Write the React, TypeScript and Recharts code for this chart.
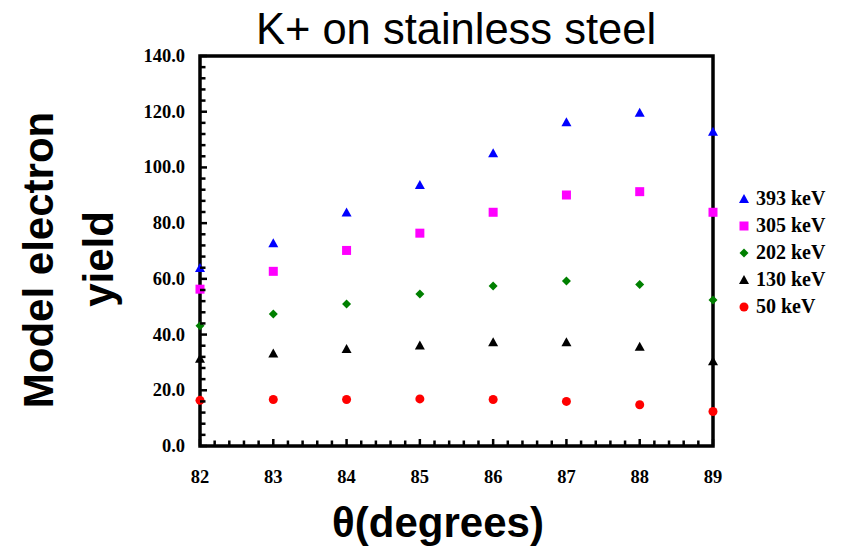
import React from 'react';
import { ScatterChart, Scatter, XAxis, YAxis, Legend } from 'recharts';

const angles = [82, 83, 84, 85, 86, 87, 88, 89];
const yield393 = [63.9, 72.8, 83.8, 93.7, 105.1, 116.2, 119.6, 112.8];
const yield305 = [56.3, 62.7, 70.2, 76.4, 83.9, 90.1, 91.3, 83.9];
const yield202 = [43.2, 47.4, 51.0, 54.6, 57.4, 59.2, 58.0, 52.4];
const yield130 = [31.3, 33.2, 34.8, 36.1, 37.2, 37.2, 35.6, 30.4];
const yield50 = [16.4, 16.7, 16.7, 16.9, 16.7, 16.0, 14.8, 12.4];

const xMajorTicks = [82, 83, 84, 85, 86, 87, 88, 89];
const yMajorTicks = [0, 20, 40, 60, 80, 100, 120, 140];

// minor ticks: 5 per major interval
const xTicks: number[] = [];
xMajorTicks.forEach((t, i) => {
  xTicks.push(t);
  if (i < xMajorTicks.length - 1) for (let k = 1; k < 5; k++) xTicks.push(Math.round((t + k * 0.2) * 10) / 10);
});
const yTicks: number[] = [];
yMajorTicks.forEach((t, i) => {
  yTicks.push(t);
  if (i < yMajorTicks.length - 1) for (let k = 1; k < 5; k++) yTicks.push(t + k * 4);
});

type Shape = 'triangle' | 'square' | 'diamond' | 'circle';

const series: { name: string; color: string; shape: Shape; values: number[] }[] = [
  { name: '393 keV', color: '#0000FF', shape: 'triangle', values: yield393 },
  { name: '305 keV', color: '#FF00FF', shape: 'square', values: yield305 },
  { name: '202 keV', color: '#008000', shape: 'diamond', values: yield202 },
  { name: '130 keV', color: '#000000', shape: 'triangle', values: yield130 },
  { name: '50 keV', color: '#FF0000', shape: 'circle', values: yield50 },
];

const SERIF = '"Liberation Serif", "Times New Roman", serif';
const SANS = '"Liberation Sans", Arial, sans-serif';

// plot frame (matches chart margins below)
const PLOT = { left: 200, top: 56, right: 713, bottom: 446 };

function Marker({ cx, cy, shape, color }: { cx: number; cy: number; shape: Shape; color: string }) {
  if (shape === 'triangle') {
    return <polygon points={`${cx},${cy - 5} ${cx - 5},${cy + 4} ${cx + 5},${cy + 4}`} fill={color} />;
  }
  if (shape === 'square') {
    return <rect x={cx - 4.5} y={cy - 4.5} width={9} height={9} fill={color} />;
  }
  if (shape === 'diamond') {
    return <polygon points={`${cx},${cy - 4.5} ${cx + 4.5},${cy} ${cx},${cy + 4.5} ${cx - 4.5},${cy}`} fill={color} />;
  }
  return <circle cx={cx} cy={cy} r={4.5} fill={color} />;
}

const YTick = (props: any) => {
  const { x, y, payload } = props;
  const major = payload.value % 20 === 0;
  return (
    <g>
      <line x1={x} x2={x + (major ? 7 : 5.5)} y1={y} y2={y} stroke="#000" strokeWidth={2.5} />
      {major && (
        <text x={x - 15} y={y} textAnchor="end" dominantBaseline="central" fontFamily={SERIF} fontWeight="bold" fontSize={18.5} fill="#000">
          {payload.value.toFixed(1)}
        </text>
      )}
    </g>
  );
};

const XTick = (props: any) => {
  const { x, y, payload } = props;
  const major = Number.isInteger(payload.value);
  return (
    <g>
      <line x1={x} x2={x} y1={y} y2={y - (major ? 7 : 5.5)} stroke="#000" strokeWidth={2.5} />
      {major && (
        <text x={x} y={y + 37} textAnchor="middle" fontFamily={SERIF} fontWeight="bold" fontSize={18.5} fill="#000">
          {payload.value}
        </text>
      )}
    </g>
  );
};

const renderLegend = () => (
  <div>
    {series.map((s) => (
      <div key={s.name} style={{ display: 'flex', alignItems: 'center', height: 27 }}>
        <svg width={20} height={20} style={{ display: 'block' }}>
          <Marker cx={10} cy={10} shape={s.shape} color={s.color} />
        </svg>
        <span style={{ fontFamily: SERIF, fontWeight: 'bold', fontSize: 20, marginLeft: 2, color: '#000' }}>{s.name}</span>
      </div>
    ))}
  </div>
);

export default function App() {
  return (
    <div style={{ position: 'absolute', left: 0, top: 0, width: 842, height: 546, background: '#fff' }}>
      <svg width={842} height={546} style={{ position: 'absolute', left: 0, top: 0 }}>
        <rect
          x={PLOT.left}
          y={PLOT.top}
          width={PLOT.right - PLOT.left}
          height={PLOT.bottom - PLOT.top}
          fill="none"
          stroke="#000"
          strokeWidth={3.5}
        />
        <text x={456} y={44} textAnchor="middle" fontFamily={SANS} fontSize={43.5} fill="#000">
          K+ on stainless steel
        </text>
        <text x={438} y={537} textAnchor="middle" fontFamily={SANS} fontWeight="bold" fontSize={42} fill="#000">
          θ(degrees)
        </text>
        <text transform="translate(53,260) rotate(-90)" textAnchor="middle" fontFamily={SANS} fontWeight="bold" fontSize={42} fill="#000">
          Model electron
        </text>
        <text transform="translate(113,259) rotate(-90)" textAnchor="middle" fontFamily={SANS} fontWeight="bold" fontSize={42} fill="#000">
          yield
        </text>
      </svg>
      <div style={{ position: 'absolute', left: 0, top: 0 }}>
        <ScatterChart width={842} height={546} margin={{ top: 56, right: 129, bottom: 70, left: 140 }}>
          <XAxis
            type="number"
            dataKey="x"
            domain={[82, 89]}
            ticks={xTicks}
            interval={0}
            tick={<XTick />}
            tickSize={0}
            tickMargin={0}
            tickLine={false}
            height={30}
            axisLine={false}
          />
          <YAxis
            type="number"
            dataKey="y"
            domain={[0, 140]}
            ticks={yTicks}
            interval={0}
            tick={<YTick />}
            tickSize={0}
            tickMargin={0}
            tickLine={false}
            width={60}
            axisLine={false}
          />
          <Legend layout="vertical" align="center" verticalAlign="middle" wrapperStyle={{ left: 734, top: 185, width: 108 }} content={renderLegend} />
          {series.map((s) => (
            <Scatter
              key={s.name}
              name={s.name}
              data={angles.map((a, i) => ({ x: a, y: s.values[i] }))}
              fill={s.color}
              isAnimationActive={false}
              shape={(p: any) => <Marker cx={p.cx} cy={p.cy} shape={s.shape} color={s.color} />}
            />
          ))}
        </ScatterChart>
      </div>
    </div>
  );
}
